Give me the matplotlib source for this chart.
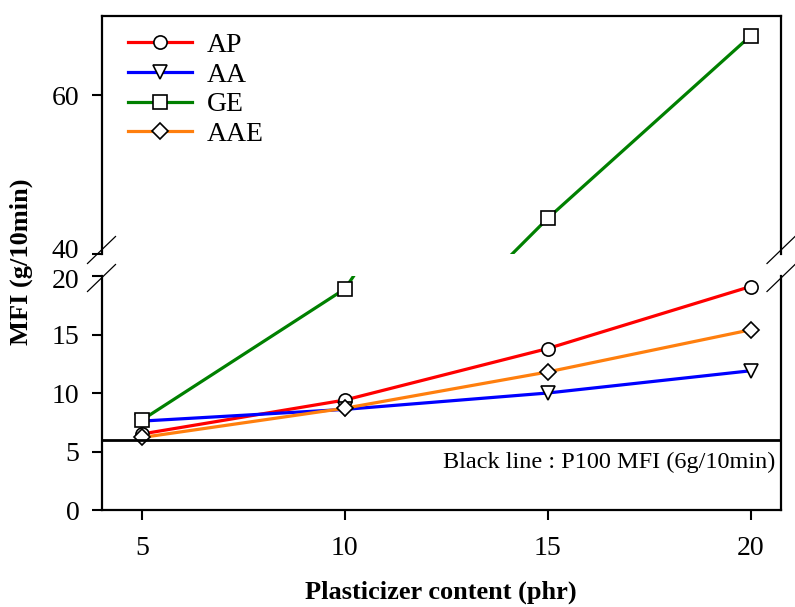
import matplotlib
matplotlib.use('Agg')
import matplotlib.pyplot as plt
from matplotlib.transforms import ScaledTranslation
import numpy as np

# data
content = [5, 10, 15, 20]
ap = [6.5, 9.4, 13.8, 19.1]
aa = [7.6, 8.6, 10.0, 11.9]
ge = [7.7, 18.9, 44.5, 67.5]
aae = [6.2, 8.7, 11.8, 15.4]
p100_mfi = 6

plt.rcParams['font.family'] = ['Liberation Serif', 'DejaVu Serif']

fig = plt.figure(figsize=(7.95, 6.07), dpi=100)
ax_top = fig.add_axes([0.1277, 0.5815, 0.8547, 0.3921])
ax_bot = fig.add_axes([0.1277, 0.1598, 0.8547, 0.3855])

series = [('AP', ap, 'red', 'o'), ('AA', aa, 'blue', 'v'),
          ('GE', ge, 'green', 's'), ('AAE', aae, '#ff7f0e', 'D')]

for ax in (ax_top, ax_bot):
    for name, vals, col, mk in series:
        ms = 8 if mk == 'D' else 9.5
        ax.plot(content, vals, color=col, lw=2.3, marker=mk, ms=ms,
                mfc='white', mec='black', mew=1.2, label=name)
    ax.set_xlim(4, 20.75)
    for s in ax.spines.values():
        s.set_linewidth(1.6)
    ax.tick_params(direction='out', length=7, width=1.5, labelsize=20)
    ax.tick_params(axis='y', pad=9)
    ax.tick_params(axis='x', pad=12)

ax_top.set_ylim(40, 70)
ax_top.set_yticks([40, 60])
ax_top.spines['bottom'].set_visible(False)
ax_top.tick_params(axis='x', bottom=False, labelbottom=False)

ax_bot.set_ylim(0, 20)
ax_bot.set_yticks([0, 5, 10, 15, 20])
ax_bot.set_xticks(content)
ax_bot.spines['top'].set_visible(False)
ax_bot.axhline(p100_mfi, color='black', lw=2)
ax_bot.text(20.6, 4.1, 'Black line : P100 MFI (6g/10min)', ha='right',
            va='center', fontsize=17.5)
ax_bot.set_xlabel('Plasticizer content (phr)', fontsize=19,
                  fontweight='bold', labelpad=14)

# pull the 40 / 20 labels apart a little, as in the original
lab40 = ax_top.get_yticklabels()[0]
lab40.set_transform(lab40.get_transform() + ScaledTranslation(0, 4 / 72, fig.dpi_scale_trans))
lab20 = ax_bot.get_yticklabels()[-1]
lab20.set_transform(lab20.get_transform() + ScaledTranslation(0, -2 / 72, fig.dpi_scale_trans))

ax_top.legend(loc='upper left', frameon=False, fontsize=20, handlelength=2.3,
              handletextpad=0.55, labelspacing=0.15, borderaxespad=0.3,
              bbox_to_anchor=(0.01, 1.012))

fig.text(0.027, 0.568, 'MFI (g/10min)', rotation=90, ha='center',
         va='center', fontsize=19, fontweight='bold')

# break marks on both sides
W, H = 795, 607
for xs in (101.5, 781):
    for yc in (250, 278):
        fig.add_artist(plt.Line2D([(xs - 14) / W, (xs + 14) / W],
                                  [1 - (yc + 13.5) / H, 1 - (yc - 13.5) / H],
                                  color='black', lw=0.9, clip_on=False))

fig.savefig('out.png', dpi=100)
